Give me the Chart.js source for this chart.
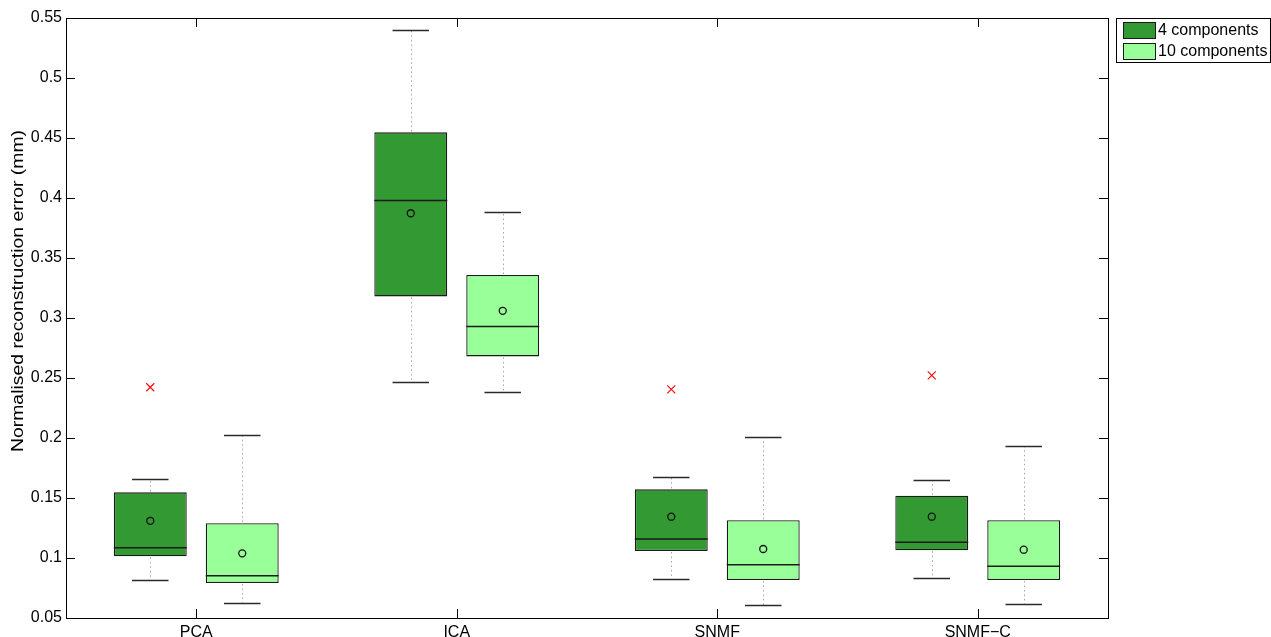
<!DOCTYPE html>
<html>
<head>
<meta charset="utf-8">
<script src="https://cdn.jsdelivr.net/npm/chart.js@4.4.1/dist/chart.umd.min.js"></script>
<style>
  html, body { margin: 0; padding: 0; background: #fff; }
  canvas { display: block; }
</style>
</head>
<body>
<canvas id="c" width="1271" height="637"></canvas>
<script>
// Methods on the x axis
const methods = ['PCA', 'ICA', 'SNMF', 'SNMF\u2212C'];
const seriesNames = ['4 components', '10 components'];

// 4 components: whisker ends, quartiles, median, mean, outliers
const lo4   = [0.0814, 0.247,  0.0825, 0.0831];
const q1_4  = [0.1014, 0.318,  0.1058, 0.1064];
const med4  = [0.1086, 0.398,  0.1158, 0.1131];
const q3_4  = [0.1547, 0.4547, 0.1572, 0.1519];
const hi4   = [0.1658, 0.540,  0.1678, 0.1650];
const mean4 = [0.1310, 0.3873, 0.1344, 0.1344];
const out4  = [[0.2423], [], [0.2406], [0.2522]];

// 10 components
const lo10   = [0.0628, 0.2383, 0.0608, 0.0617];
const q1_10  = [0.0792, 0.268,  0.0817, 0.0817];
const med10  = [0.0853, 0.293,  0.0944, 0.0931];
const q3_10  = [0.1290, 0.3358, 0.1314, 0.1314];
const hi10   = [0.2028, 0.3886, 0.2008, 0.1933];
const mean10 = [0.1039, 0.3060, 0.1075, 0.1069];
const out10  = [[], [], [], []];

// y axis ticks
const yTicks = [0.05, 0.1, 0.15, 0.2, 0.25, 0.3, 0.35, 0.4, 0.45, 0.5, 0.55];
const yTickLabels = ['0.05', '0.1', '0.15', '0.2', '0.25', '0.3', '0.35', '0.4', '0.45', '0.5', '0.55'];
const yTitle = 'Normalised reconstruction error (mm)';

const FONT = "'Liberation Sans', Arial, Helvetica, sans-serif";
const colors = ['#339933', '#99ff99'];

const stats = [
  { lo: lo4,  q1: q1_4,  med: med4,  q3: q3_4,  hi: hi4,  mean: mean4,  out: out4 },
  { lo: lo10, q1: q1_10, med: med10, q3: q3_10, hi: hi10, mean: mean10, out: out10 }
];

const px = v => Math.round(v) + 0.5;

// Draws whiskers, medians, means, outliers, frame, ticks, legend and axis title
const boxPlugin = {
  id: 'boxExtras',
  afterDraw(chart) {
    const ctx = chart.ctx;
    const ys = chart.scales.y;
    const xs = chart.scales.x;
    const area = chart.chartArea;

    ctx.save();
    stats.forEach((s, di) => {
      const meta = chart.getDatasetMeta(di);
      meta.data.forEach((el, i) => {
        const x = el.x;
        const hw = el.width / 2;
        const capHw = el.width * 0.25;
        const yLo = ys.getPixelForValue(s.lo[i]);
        const yQ1 = ys.getPixelForValue(s.q1[i]);
        const yQ3 = ys.getPixelForValue(s.q3[i]);
        const yHi = ys.getPixelForValue(s.hi[i]);
        const yMed = ys.getPixelForValue(s.med[i]);
        const yMean = ys.getPixelForValue(s.mean[i]);

        // dotted whisker stems
        ctx.setLineDash([1.5, 3]);
        ctx.strokeStyle = '#a6a6a6';
        ctx.lineWidth = 1;
        ctx.beginPath();
        ctx.moveTo(px(x), yQ3 - 1); ctx.lineTo(px(x), yHi);
        ctx.moveTo(px(x), yQ1 + 1); ctx.lineTo(px(x), yLo);
        ctx.stroke();
        ctx.setLineDash([]);

        // whisker caps
        ctx.strokeStyle = '#2a2a2a';
        ctx.lineWidth = 1.3;
        ctx.beginPath();
        ctx.moveTo(x - capHw, px(yHi)); ctx.lineTo(x + capHw, px(yHi));
        ctx.moveTo(x - capHw, px(yLo)); ctx.lineTo(x + capHw, px(yLo));
        ctx.stroke();

        // median
        ctx.strokeStyle = '#1a1a1a';
        ctx.lineWidth = 1.5;
        ctx.beginPath();
        ctx.moveTo(x - hw, yMed); ctx.lineTo(x + hw, yMed);
        ctx.stroke();

        // mean
        ctx.lineWidth = 1.3;
        ctx.strokeStyle = '#111';
        ctx.beginPath();
        ctx.arc(x, yMean, 3.5, 0, Math.PI * 2);
        ctx.stroke();

        // outliers
        ctx.strokeStyle = '#ff0000';
        ctx.lineWidth = 1.1;
        s.out[i].forEach(v => {
          const yo = ys.getPixelForValue(v);
          ctx.beginPath();
          ctx.moveTo(x - 4, yo - 4); ctx.lineTo(x + 4, yo + 4);
          ctx.moveTo(x - 4, yo + 4); ctx.lineTo(x + 4, yo - 4);
          ctx.stroke();
        });
      });
    });

    // frame
    ctx.strokeStyle = '#000';
    ctx.lineWidth = 1;
    ctx.strokeRect(px(area.left), px(area.top), Math.round(area.right - area.left), Math.round(area.bottom - area.top));

    // inward tick marks
    const tl = 9;
    ctx.beginPath();
    ys.ticks.forEach(t => {
      const y = px(ys.getPixelForValue(t.value));
      ctx.moveTo(area.left, y); ctx.lineTo(area.left + tl, y);
      ctx.moveTo(area.right, y); ctx.lineTo(area.right - tl, y);
    });
    methods.forEach((m, i) => {
      const x = px(xs.getPixelForValue(i));
      ctx.moveTo(x, area.bottom); ctx.lineTo(x, area.bottom - tl);
      ctx.moveTo(x, area.top); ctx.lineTo(x, area.top + tl);
    });
    ctx.stroke();

    // y axis title, stretched along its length
    ctx.fillStyle = '#000';
    ctx.font = '16.5px ' + FONT;
    ctx.textAlign = 'center';
    ctx.textBaseline = 'middle';
    ctx.save();
    ctx.translate(18, 291);
    ctx.rotate(-Math.PI / 2);
    const tw = ctx.measureText(yTitle).width;
    ctx.scale(322 / tw, 1);
    ctx.fillText(yTitle, 0, 0);
    ctx.restore();

    // legend
    const lx = 1116, ly = 18, lw = 154, lh = 44;
    ctx.fillStyle = '#fff';
    ctx.fillRect(lx, ly, lw, lh);
    ctx.strokeStyle = '#000';
    ctx.lineWidth = 1;
    ctx.strokeRect(lx + 0.5, ly + 0.5, lw, lh);
    ctx.font = '16px ' + FONT;
    seriesNames.forEach((name, i) => {
      const sy = ly + 4 + i * 21;
      ctx.fillStyle = colors[i];
      ctx.fillRect(1123, sy, 32, 16);
      ctx.strokeStyle = '#1a1a1a';
      ctx.strokeRect(1123.5, sy + 0.5, 32, 16);
      ctx.fillStyle = '#000';
      ctx.textAlign = 'left';
      ctx.textBaseline = 'middle';
      ctx.fillText(name, 1158, sy + 8.5);
    });
    ctx.restore();
  }
};

const barData = (q1, q3) => q1.map((v, i) => [v, q3[i]]);

new Chart(document.getElementById('c').getContext('2d'), {
  type: 'bar',
  data: {
    labels: methods,
    datasets: [
      {
        label: seriesNames[0],
        data: barData(q1_4, q3_4),
        backgroundColor: colors[0],
        borderColor: '#1a1a1a',
        borderWidth: 1.3,
        borderSkipped: false,
        categoryPercentage: 0.706,
        barPercentage: 0.793
      },
      {
        label: seriesNames[1],
        data: barData(q1_10, q3_10),
        backgroundColor: colors[1],
        borderColor: '#1a1a1a',
        borderWidth: 1.3,
        borderSkipped: false,
        categoryPercentage: 0.706,
        barPercentage: 0.793
      }
    ]
  },
  options: {
    responsive: false,
    animation: false,
    devicePixelRatio: 1,
    layout: { padding: { left: 0, right: 163, top: 18, bottom: 0 } },
    plugins: {
      legend: { display: false },
      tooltip: { enabled: false }
    },
    scales: {
      x: {
        grid: { display: false, drawTicks: false },
        border: { display: false },
        ticks: { font: { family: FONT, size: 16 }, color: '#000', padding: 5, maxRotation: 0 },
        afterFit(s) { s.height = 19; }
      },
      y: {
        min: 0.05,
        max: 0.55,
        grid: { display: false, drawTicks: false },
        border: { display: false },
        ticks: {
          font: { family: FONT, size: 16 },
          color: '#000',
          padding: 4,
          callback: (v, i) => yTickLabels[i]
        },
        afterBuildTicks(s) { s.ticks = yTicks.map(v => ({ value: v })); },
        afterFit(s) { s.width = 66; }
      }
    }
  },
  plugins: [boxPlugin]
});
</script>
</body>
</html>
